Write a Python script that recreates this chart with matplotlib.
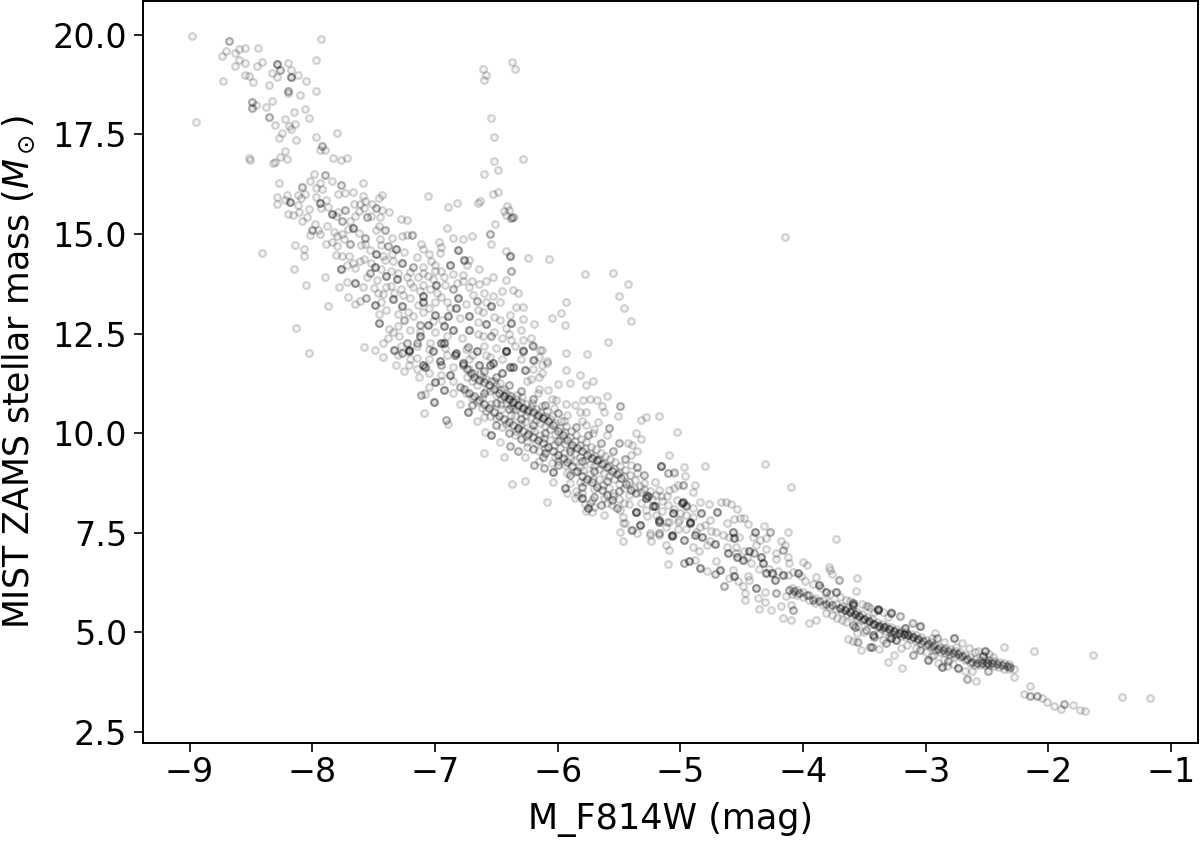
import matplotlib
matplotlib.use('Agg')
import matplotlib.pyplot as plt
import numpy as np

# (F814W mag, ZAMS mass, [number of overlapping stars])
bright_stars = [
(-8.98,19.96),(-8.68,19.84,2),(-8.70,19.60),(-8.74,19.46),(-8.63,19.54),(-8.60,19.64),(-8.55,19.68),(-8.44,19.67),
(-8.60,19.36),(-8.55,19.29),(-8.63,19.21),(-8.45,19.22),(-8.41,19.31),(-8.29,19.27,3),(-8.20,19.29),(-8.26,19.12,2),
(-8.17,19.11),(-8.12,19.0),(-8.17,18.94,3),(-8.33,19.04),(-8.29,18.93),(-7.93,19.89),(-7.97,19.37),(-8.05,18.83),
(-7.97,18.60),(-8.55,19.0),(-8.52,18.97),(-8.48,18.81),(-8.73,18.83),(-8.35,18.74),(-8.20,18.60,2),(-8.20,18.54),
(-8.10,18.49),(-8.33,18.35),(-8.49,18.31,2),(-8.46,18.25),(-8.49,18.16,2),(-8.38,18.19),(-8.35,17.93,2),(-8.06,18.15),
(-8.15,18.07),(-8.03,17.92),(-8.22,17.88),(-8.30,17.73),(-8.14,17.77),(-8.19,17.70),(-8.17,17.63),(-8.25,17.53),
(-8.27,17.41),(-8.13,17.37),(-8.95,17.82),(-7.80,17.54),(-7.97,17.43),(-7.92,17.20,2),(-7.94,17.10),(-7.90,17.11),
(-8.22,17.08),(-8.26,16.93),(-8.21,16.89),(-7.83,16.91),(-7.77,16.87),(-7.72,16.90),(-8.52,16.90),(-8.51,16.86),
(-8.32,16.78),(-8.30,16.80),(-7.99,16.51),(-7.90,16.47,2),(-7.84,16.34),(-7.77,16.23,2),(-7.59,16.28),(-8.02,16.34),
(-8.08,16.19,2),(-7.94,16.28),(-8.27,16.28),(-7.97,16.15),(-7.92,16.14),(-7.79,16.0),(-7.73,16.02),(-7.67,16.05),
(-8.29,15.94),(-8.21,15.98),(-8.12,15.97),(-8.06,16.01),(-7.59,15.96),(-7.43,15.97),(-7.06,15.95),(-7.46,15.9),
]

upper_branch = [
(-6.61,19.14),(-6.58,19.0),(-6.60,18.86),(-6.37,19.33),(-6.35,19.14),(-6.54,17.92),(-6.52,17.43),(-6.52,16.83),
(-6.28,16.88),(-6.49,16.6),(-6.60,16.5),(-6.49,16.05),(-6.63,15.83),(-6.82,15.77),(-6.40,15.6),(-6.42,15.47),
(-6.38,15.4,2),
(-6.24,14.4),(-5.78,14.0),(-5.43,13.75),(-5.55,14.02),(-5.50,13.45),(-5.46,13.15),(-5.40,12.82),(-5.93,13.3),(-5.97,13.02),
(-6.05,12.88),(-5.94,12.72),(-4.15,14.93),
]

upper_cloud = [
(-8.29,15.75),(-8.18,15.81,3),(-8.20,15.50),(-8.16,15.47),(-8.11,15.54),(-8.08,15.33),(-8.04,15.42),(-8.09,15.90),
(-7.94,15.77,4),(-7.89,15.86),(-7.93,15.65),(-7.84,15.51,3),(-7.79,15.56),(-7.73,15.59,2),(-7.76,15.33,2),(-7.65,15.46),
(-7.66,15.75),(-7.61,15.75),(-7.57,15.84),(-7.58,15.65),(-7.48,15.66,2),(-7.43,15.59),(-7.375,15.54),(-7.55,15.42,2),
(-7.52,15.44),(-7.28,15.37),(-7.23,15.35),(-6.89,15.69),(-6.65,15.77),(-6.53,16.0),(-6.41,15.71),(-6.44,15.58),
(-6.36,15.42,2),(-6.51,15.25),(-6.90,15.14),(-6.85,14.91),(-6.77,14.87),(-6.70,14.96),(-6.55,15.0,2),(-6.54,14.75),
(-7.98,15.25),(-8.0,15.09,2),(-7.95,15.10),(-8.02,14.98),(-7.94,14.99),(-7.76,14.99),(-7.67,15.15,3),(-7.71,15.12),
(-7.80,14.94),(-7.84,14.81),(-7.89,14.75),(-7.80,14.70),(-7.69,14.76,2),(-7.57,14.89,2),(-7.57,14.75),(-7.60,14.73),
(-7.46,15.20),(-7.48,15.09),(-7.41,15.09,2),(-7.45,14.88),(-7.35,14.91),(-7.27,14.96),(-7.23,14.97),(-7.185,14.97,2),
(-7.38,14.70,2),(-7.32,14.63,3),(-7.48,14.50,4),(-7.42,14.45),(-7.11,14.75),(-7.10,14.62),(-6.97,14.79),(-6.95,14.67),
(-6.96,14.53),(-6.81,14.60,3),(-6.39,14.45,3),(-6.42,14.57),(-6.07,14.38),(-7.03,14.33),(-6.88,14.22,3),(-6.76,14.35,3),
(-6.72,14.35),(-6.74,14.22),(-6.64,14.13),(-6.38,14.08,2),(-8.14,14.73),(-8.07,14.63),(-8.07,14.45),(-8.41,14.52),
(-8.15,14.13),(-7.90,13.92),(-8.05,13.71),(-7.77,14.13,3),(-7.81,14.47),(-7.76,14.45),(-7.70,14.45),(-7.67,14.27),
(-7.61,14.31),(-7.65,14.14),(-7.72,14.22),(-7.49,14.16,3),(-7.53,14.03,2),(-7.41,14.35),(-7.34,14.31),(-7.27,14.27,3),
(-7.18,14.18,2),(-7.10,14.17),(-7.0,14.22),(-7.0,14.06),(-6.95,14.06),(-7.40,13.95,3),(-7.31,13.87,4),(-7.23,13.93),
(-7.14,13.93),(-7.06,13.95),(-6.77,13.97),(-6.77,13.81),(-7.65,13.78,3),(-7.72,13.79),(-7.78,13.66),(-7.59,13.66),
(-7.50,13.64),(-7.465,13.51),(-7.40,13.68),(-6.99,13.72,4),(-7.10,13.72),(-7.18,13.66),(-6.85,13.61,2),(-6.72,13.68),
(-6.64,13.74),(-6.58,13.81),(-6.53,13.91),(-6.42,13.85),(-7.71,13.41),(-7.87,13.18),(-8.13,12.63),(-8.03,12.01),
(-7.56,13.39,2),(-7.61,13.32),(-7.65,13.24),(-7.49,13.22,3),(-7.44,13.29),(-7.34,13.36,3),(-7.26,13.47),(-7.27,13.18,3),
(-7.10,13.45,3),(-7.10,13.3,3),(-7.0,13.3),(-6.98,13.53),(-6.90,13.3),(-6.81,13.39,3),(-6.69,13.47),(-6.66,13.33,2),
(-6.60,13.53),(-6.53,13.45),(-6.54,13.18,3),(-6.47,13.28),(-6.45,13.58),(-6.36,13.60),(-6.32,13.53),(-6.34,13.16),
(-6.28,13.16),(-6.61,13.05),(-6.39,12.97),(-6.28,12.86),(-6.19,12.73),(-6.38,12.76,3),(-6.47,12.84),(-6.58,12.74,3),
(-6.72,12.93,4),(-6.83,13.14,3),(-6.89,12.93,3),(-7.0,12.97,4),(-7.12,12.72,2),(-7.25,12.84,2),(-7.18,12.93),
(-7.46,12.76,4),(-7.46,13.0),(-7.375,12.61),(-7.34,12.53),(-7.29,12.43),(-7.58,12.17),(-7.49,12.09),(-7.42,12.26),
(-7.42,11.91),(-7.33,12.09,4),(-7.23,12.26,2),(-7.21,12.09,3),(-7.12,12.43,3),(-7.06,12.72,3),(-6.93,12.68,3),
(-6.85,12.59,3),(-6.72,12.59,5),(-6.61,12.43),(-6.54,12.45,2),(-6.45,12.38),(-6.38,12.34),(-6.28,12.34),(-6.42,12.05,5),
(-6.83,12.0,4),(-6.95,12.26,4),(-7.04,12.26),(-6.96,11.80,5),(-6.77,11.76,6),(-7.10,11.71,3),(-6.66,12.05,4),
(-6.55,11.71,6),(-6.28,12.05,3),(-6.20,12.2,2),(-6.13,12.09),(-6.20,11.84,2),(-6.09,11.80),(-7.32,11.71),(-7.15,11.88),
(-6.39,11.67,4),
]

cloud_extra = [
(-8.22,15.85),(-8.12,15.72),(-8.03,15.62),(-7.97,15.92),(-7.87,15.68),(-7.81,15.45),(-7.69,15.33),(-7.62,15.58),(-7.51,15.75),(-7.45,15.42),
(-7.88,15.2),(-7.82,15.05),(-7.74,14.88),(-7.62,15.02),(-7.53,14.6),(-7.44,14.72),(-7.35,14.5),(-7.25,14.55),(-7.15,14.42),(-7.05,14.5),
(-7.58,14.38),(-7.52,14.28),(-7.44,14.12),(-7.36,14.08),(-7.3,14.02),(-7.2,14.05),(-7.1,14.02),(-7.02,13.88),(-6.93,13.92),(-6.85,14.0),
(-7.55,13.92),(-7.47,13.85),(-7.36,13.7),(-7.28,13.62),(-7.2,13.78),(-7.12,13.58),(-7.04,13.62),(-6.92,13.72),(-6.82,13.78),(-6.7,13.82),
(-7.42,13.5),(-7.33,13.52),(-7.2,13.4),(-7.14,13.22),(-7.05,13.15),(-6.95,13.42),(-6.88,13.15),(-6.75,13.25),(-6.65,13.1),(-6.58,13.28),
(-7.4,13.1),(-7.3,12.98),(-7.22,13.05),(-7.1,13.05),(-7.02,12.82),(-6.94,12.85),(-6.8,12.88),(-6.65,12.8),(-6.52,12.92),(-6.42,12.65),
(-7.3,12.7),(-7.2,12.6),(-7.12,12.55),(-7.0,12.55),(-6.9,12.45),(-6.78,12.4),(-6.65,12.5),(-6.52,12.55),(-6.4,12.5),(-6.3,12.6),
(-7.38,12.4),(-7.28,12.2),(-7.15,12.2),(-7.05,12.1),(-6.92,12.15),(-6.75,12.1),(-6.6,12.2),(-6.5,12.15),(-6.35,12.2),(-6.22,12.4),
(-7.3,11.95),(-7.2,11.85),(-7.05,11.85),(-6.9,11.95),(-6.7,11.95),(-6.55,11.9),(-6.45,11.85),(-6.3,11.85),(-6.15,11.9),(-7.25,11.55),
(-7.15,11.6),(-7.05,11.5),(-6.95,11.45),(-6.85,11.65),(-6.72,11.85),(-6.2,11.6),(-6.15,11.4),(-6.22,11.35),(-7.05,11.15),(-6.95,11.3),(-6.85,11.3),
]

dense_edge = [
(-5.93,12.0),(-5.76,11.98),(-5.59,12.30),(-5.93,11.59),(-5.82,11.47),(-6.0,11.24),(-5.90,11.27),(-5.77,11.20),
(-5.71,11.32),(-5.60,10.94),(-5.74,10.86),(-5.79,10.83),(-5.68,10.82),(-5.64,10.67),(-5.49,10.67,2),(-5.51,10.43),
(-5.62,10.52),(-5.32,10.32),(-5.28,10.40),(-5.17,10.43),(-5.03,10.04),(-5.36,10.0),(-5.32,9.86),(-5.43,9.75),
(-5.39,9.70),(-5.35,9.54),(-5.09,9.44),(-5.16,9.18,2),(-4.97,9.16),(-5.10,9.01),(-5.05,9.02),(-4.96,8.93),
(-5.58,10.12,2),(-5.67,10.29),(-5.77,10.21),(-5.71,10.01),(-5.86,10.71),(-5.82,10.54),(-5.77,10.54),(-5.93,10.73),
(-6.01,10.83),(-6.08,11.08),(-6.16,11.0),(-6.13,11.50),(-6.09,11.77),(-6.13,11.71),(-6.14,12.09),(-6.19,11.84),
(-6.21,12.21),(-6.27,11.59,3),(-7.27,12.0,2),(-7.21,12.05,3),(-7.15,12.26,2),(-7.02,12.05,3),(-6.93,12.26,3),
(-6.84,11.96,3),(-6.73,12.17,2),(-6.58,11.96),(-6.42,12.05,3),(-6.53,11.75,3),(-6.64,11.71,3),(-6.36,11.67,4),
(-6.45,11.50,3),(-6.28,12.09),(-7.08,11.67,3),(-7.21,11.71),(-7.13,11.42),(-7.0,11.29,5),(-6.95,11.71,2),(-6.88,11.46,3),
(-6.93,11.08,3),(-7.11,10.96,2),(-7.08,10.98),(-7.01,10.78,3),(-7.09,10.51),(-6.91,10.33,2),(-6.89,10.22),(-6.80,10.73),
(-6.73,10.52,3),(-6.66,10.31),(-6.60,9.51),(-6.44,9.39),(-6.37,8.73),(-6.27,8.79),(-6.09,8.27),(-6.54,9.95,3),
(-6.59,10.04),(-6.47,9.79),(-6.39,9.68,2),(-6.32,9.54,2),(-6.27,9.41),(-6.19,9.20,2),(-6.12,9.41,2),(-6.11,9.12,2),
(-6.04,9.03,3),(-6.04,8.78),(-5.94,8.62,5),(-5.86,8.37),(-5.80,8.37,5),(-5.75,8.11,4),(-5.62,7.95),(-5.49,8.07),
(-5.47,7.90),(-5.45,7.75),(-5.49,7.53),(-5.40,7.57),(-5.35,7.49),(-5.33,7.70,2),(-5.25,7.49),(-5.17,7.45),(-5.07,7.45,3),
(-5.06,7.99,2),(-4.99,8.24,3),(-4.95,8.2),(-4.88,8.70),(-4.90,8.53),(-4.98,8.70,2),(-5.05,8.62),(-5.11,8.41),(-5.21,8.78),
(-5.17,8.57),(-5.26,8.41,5),(-5.21,8.16,3),(-5.36,8.03,3),(-5.28,8.07),(-5.17,7.78,3),(-5.11,7.78),(-5.02,7.78),
(-4.92,7.74,3),(-4.88,7.45,3),
]

band_a = [
(-6.77,11.71,2),(-6.74,11.60,2),(-6.71,11.50,2),(-6.68,11.42,2),(-6.64,11.34,2),(-6.60,11.28,2),(-6.56,11.22,2),(-6.52,11.12,2),
(-6.48,11.0,2),(-6.44,10.92,3),(-6.40,10.86,3),(-6.36,10.78,3),(-6.32,10.70,3),(-6.28,10.62,3),(-6.24,10.58,2),(-6.20,10.52,2),
(-6.16,10.46,2),(-6.12,10.38,3),(-6.08,10.30,2),(-6.04,10.20,2),(-6.0,10.05,2),(-5.96,9.95,2),(-5.92,9.82,2),(-5.88,9.70,2),
(-5.84,9.62,2),(-5.80,9.55,2),(-5.76,9.45,2),(-5.72,9.38,2),(-5.68,9.33,3),(-5.64,9.22,2),(-5.60,9.14,2),(-5.56,9.05,2),
(-5.52,8.98,2),(-5.48,8.88,2),(-5.44,8.72,2),(-5.40,8.56,2),(-5.36,8.50,2),
]

band_b = [
(-6.80,11.17,2),(-6.76,11.10,2),(-6.72,11.0,2),(-6.68,10.92,2),(-6.64,10.84,2),(-6.60,10.72,2),(-6.56,10.62,2),(-6.52,10.52,2),
(-6.48,10.44,2),(-6.44,10.36,2),(-6.40,10.28,2),(-6.36,10.20,2),(-6.32,10.12,3),(-6.28,10.06,2),(-6.24,9.98,2),(-6.20,9.90,2),
(-6.16,9.82,2),(-6.12,9.76,2),(-6.08,9.66,2),(-6.04,9.54,2),(-6.0,9.46,2),(-5.96,9.38,2),(-5.92,9.28,2),(-5.88,9.18,2),
(-5.84,9.06,2),(-5.80,8.92,2),(-5.76,8.86,2),(-5.72,8.78,2),(-5.68,8.66,2),(-5.64,8.56,2),(-5.60,8.44,2),(-5.56,8.32,2),(-5.52,8.12,2),
]

band_fill = [
(-6.6,11.0,2),(-6.5,10.75,2),(-6.4,10.6,2),(-6.3,10.35,2),(-6.2,10.2,2),(-6.1,10.0,2),(-6.0,9.8,2),(-5.9,9.55,2),(-5.8,9.3,2),
(-5.7,9.05,2),(-5.6,8.8,2),(-5.5,8.55,2),(-6.6,11.55,2),(-6.5,11.4,2),(-6.4,11.2,2),(-6.3,11.05,2),(-6.2,10.85,2),(-6.1,10.7,2),
(-6.0,10.5,2),(-5.95,10.3),(-5.85,10.15,2),(-5.75,9.95,2),(-5.65,9.75,2),(-5.55,9.55,2),(-5.45,9.35,2),(-5.35,9.15,2),(-5.3,8.95,2),
(-6.25,11.3),(-6.15,11.1),(-6.05,10.85),(-5.92,10.45),(-5.8,10.3),(-5.7,10.1),(-5.6,9.95),(-5.5,9.75,2),(-5.4,9.45),(-6.85,11.0),
(-6.7,10.7,2),(-6.6,10.4),(-6.5,10.2,2),(-6.4,10.0,2),(-6.3,9.85,2),(-6.2,9.6,2),(-6.1,9.5,2),(-6.0,9.2,2),(-5.9,8.95,2),
(-5.8,8.65,2),(-5.7,8.4,2),(-5.65,8.2,2),(-6.25,9.65),(-6.15,9.3),(-6.05,9.25),
]

band_extra = [
(-6.72,11.62),(-6.68,11.52),(-6.62,11.42),(-6.58,11.35),(-6.54,11.3),(-6.5,11.2),(-6.46,11.08),(-6.42,11.0),(-6.38,10.92),(-6.34,10.85),
(-6.3,10.78),(-6.26,10.72),(-6.22,10.65),(-6.18,10.6),(-6.14,10.52),(-6.1,10.44),(-6.06,10.35),(-6.02,10.25),(-5.98,10.12),(-5.94,10.02),
(-5.9,9.9),(-5.86,9.8),(-5.82,9.7),(-5.78,9.62),(-5.74,9.5),(-5.7,9.42),(-5.66,9.35),(-5.62,9.25),(-5.58,9.18),(-5.54,9.1),(-5.5,9.02),
(-5.46,8.92),(-5.42,8.78),(-5.38,8.62),(-5.32,8.52),(-6.66,11.2),(-6.58,11.08),(-6.5,10.95),(-6.46,10.85),(-6.42,10.75),(-6.38,10.68),
(-6.34,10.6),(-6.3,10.52),(-6.26,10.46),(-6.22,10.4),(-6.18,10.32),(-6.14,10.25),(-6.1,10.18),(-6.06,10.1),(-6.02,9.98),(-5.98,9.85),
(-5.94,9.72),(-5.9,9.62),(-5.86,9.5),(-5.82,9.4),(-5.78,9.32),(-5.74,9.22),(-5.7,9.18),(-5.66,9.1),(-5.62,9.0),(-5.58,8.92),(-5.54,8.85),
(-5.5,8.72),(-5.46,8.62),(-5.42,8.45),(-6.66,10.78),(-6.58,10.55),(-6.5,10.38),(-6.42,10.22),(-6.34,10.05),(-6.26,9.92),(-6.18,9.75),
(-6.1,9.62),(-6.02,9.4),(-5.94,9.2),(-5.86,9.02),(-5.78,8.78),(-5.7,8.6),(-5.62,8.38),(-5.56,8.2),(-5.74,8.25),(-5.7,8.15),(-5.8,8.5),
(-5.85,8.55),(-5.9,8.75),(-6.45,10.15),(-6.35,9.95),(-6.25,9.78),(-6.15,9.55),(-6.0,9.3),(-5.92,9.0),(-5.82,8.78),(-5.6,8.25),(-5.55,8.42),
(-5.4,9.2),(-5.35,9.0),(-5.3,8.75),(-5.25,8.55),(-5.2,8.45),(-5.32,8.25),(-5.42,8.22),(-5.3,8.6),(-5.15,8.3),(-5.1,8.2),(-5.15,8.05),
(-5.05,8.1),(-5.0,8.0),(-4.95,7.95),(-5.2,7.95),(-5.12,7.65),(-5.02,7.6),(-4.95,7.6),(-4.9,7.9),(-4.8,7.7),(-4.75,7.55),(-4.78,7.18),
(-4.65,7.45),(-4.62,7.15),(-4.55,7.15),(-4.48,7.05),(-4.38,7.2),(-4.3,7.1),(-4.22,6.85),(-4.12,6.9),(-4.55,6.98),(-4.46,6.88),(-4.42,6.75),
(-4.36,6.6),(-4.28,6.6),(-4.2,6.55),(-4.12,6.45),(-4.08,6.52),(-4.02,6.42),(-3.98,6.3),(-3.92,6.2),(-3.85,6.1),(-3.78,5.95),(-3.7,5.88),
(-3.65,5.8),(-3.62,5.78),(-3.52,5.72),(-3.45,5.62),(-3.35,5.52),(-3.42,5.5),(-3.72,5.35),(-3.65,5.25),(-3.55,5.15),(-3.5,5.0),(-3.38,4.95),
(-3.3,4.88),(-3.15,4.68),(-3.08,4.6),(-3.0,4.5),(-2.93,4.42),(-2.85,4.32),(-2.78,4.2),(-2.95,4.4),(-2.9,4.24),(-2.83,4.15),(-2.95,4.85),
(-2.85,4.75),(-2.65,4.6),(-2.6,4.5),(-2.48,4.45),(-2.45,4.38),
]

band_scatter = [
(-6.74,11.42),(-6.7,11.3),(-6.63,11.48),(-6.55,11.05),(-6.52,11.32),(-6.47,11.25),(-6.44,11.12),(-6.4,10.95),(-6.36,10.62),(-6.33,10.95),
(-6.29,10.9),(-6.25,10.55),(-6.21,10.75),(-6.17,10.42),(-6.13,10.68),(-6.09,10.55),(-6.05,10.42),(-6.03,10.62),(-5.97,10.3),(-5.93,10.18),
(-5.89,10.05),(-5.85,9.95),(-5.81,9.85),(-5.77,9.78),(-5.73,9.65),(-5.69,9.6),(-5.65,9.5),(-5.61,9.42),(-5.57,9.35),(-5.53,9.28),(-5.49,9.18),
(-5.45,9.08),(-5.41,8.95),(-5.37,8.82),(-5.33,8.68),(-5.28,8.45),(-5.23,8.35),(-6.62,10.62),(-6.55,10.42),(-6.46,10.6),(-6.38,10.45),
(-6.3,10.22),(-6.22,10.1),(-6.14,9.95),(-6.06,9.82),(-5.98,9.62),(-5.9,9.35),(-5.82,9.15),(-5.74,8.98),(-5.66,8.85),(-5.58,8.62),(-5.5,8.35),
(-5.46,8.25),(-6.75,11.0),(-6.7,10.88),(-6.62,10.9),(-6.54,10.72),(-6.46,10.72),(-6.35,10.42),(-6.27,10.28),(-6.19,10.05),(-6.11,9.88),
(-6.03,9.7),(-5.95,9.5),(-5.87,9.3),(-5.79,9.08),(-5.71,8.85),(-5.63,8.7),(-5.55,8.5),(-5.72,8.32),(-5.78,8.22),(-5.83,8.45),(-5.92,8.5),
(-5.77,8.05),(-5.72,8.02),
]

mid_band = [
(-4.80,9.17),(-4.31,9.22),(-4.10,8.66),(-4.84,8.27),(-4.77,8.23),(-4.67,8.27),(-4.63,8.26),(-4.59,8.22),(-4.54,8.09),(-4.70,8.02,3),
(-4.51,7.86),(-4.56,7.84),(-4.48,7.88),(-4.45,7.72),(-4.62,7.74),(-4.76,7.81),(-4.83,7.99,3),(-4.92,7.76,3),(-4.84,7.64),(-4.71,7.53),
(-4.57,7.53,4),(-4.56,7.36,4),(-4.60,7.39),(-4.82,7.40,6),(-4.87,7.53),(-4.72,7.22,4),(-4.76,7.28),(-4.32,7.66),(-4.39,7.53,3),
(-4.27,7.51,2),(-4.12,7.53),(-4.35,7.32),(-4.30,7.36),(-4.41,7.39),(-4.52,7.40),(-4.18,7.30),(-4.15,7.20),(-4.16,7.07,2),(-4.22,7.0),
(-3.73,7.33),(-4.90,7.13),(-4.85,7.03),(-4.97,7.32,3),(-5.07,7.42,3),(-5.12,7.19),(-5.09,7.07),(-5.10,6.72),(-4.97,6.74,2),(-4.93,6.78,3),
(-4.88,6.82),(-4.84,6.61,4),(-4.78,6.53),(-4.71,6.78),(-4.68,6.57,4),(-4.72,6.47,2),(-4.61,6.99,5),(-4.54,6.90,4),(-4.49,6.82,7),
(-4.44,7.03,4),(-4.40,6.99,2),(-4.34,6.90,4),(-4.33,6.74,3),(-4.30,6.48,5),(-4.25,6.48,5),(-4.23,6.32,3),(-4.16,6.44,5),(-4.11,6.74),
(-4.04,6.5,5),(-4.0,6.76),(-3.97,6.69),(-3.89,6.40),(-3.79,6.65),(-3.78,6.57),(-3.76,6.47),(-3.71,6.32,2),(-3.56,6.37),(-3.57,6.03),
(-4.57,6.57),(-4.56,6.42,3),(-4.53,6.30),(-4.45,6.42),(-4.44,6.32),(-4.60,6.36),(-4.64,6.15,2),(-4.49,6.15),(-4.47,5.98),(-4.47,5.80),
(-4.38,6.11,3),(-4.31,6.02),(-4.37,5.86),(-4.31,5.77),(-4.36,5.59),(-4.26,5.55),(-4.18,5.65),(-4.16,5.37),(-4.10,5.30),(-3.95,5.23),
(-3.89,5.30),(-4.08,5.56,2),(-4.10,5.69),(-4.22,5.98,2),(-4.14,5.90),(-3.87,6.19,3),(-3.81,6.02,4),(-3.73,6.02,3),(-3.59,5.69,5),
(-3.47,5.65),(-3.39,5.58,3),(-3.28,5.48,3),(-3.21,5.41),(-3.11,5.23),(-3.81,5.48),(-3.76,5.44),(-3.68,5.31),(-3.59,5.19,2),(-3.56,4.98),
(-3.485,5.06),(-3.42,4.89,2),(-3.63,4.83),(-3.56,4.75),(-3.44,4.64,2),(-3.32,4.73,2),(-3.24,4.81,3),(-5.47,7.74),(-5.39,7.57,2),
(-5.47,7.28),(-5.33,7.70,2),(-5.24,7.28),(-5.25,7.45),(-5.17,7.49,2),(-5.17,7.82,4),(-5.22,8.16,4),(-5.28,8.37,4),(-5.36,8.03,2),
(-5.27,7.91),(-5.06,7.99,2),(-5.09,7.78),(-5.01,7.82),(-5.16,8.41),(-5.09,8.58),(-5.02,8.70),(-4.98,8.28,4),(-4.95,8.16,2),(-5.03,8.33),
(-4.90,8.12),(-5.16,9.18,2),(-5.10,9.01),(-5.05,9.01),
]

main_ridge = [
(-4.11,6.07,2),(-4.07,6.03,2),(-4.03,5.98,2),(-3.97,5.94,2),(-3.92,5.81,2),(-3.87,5.78,2),(-3.81,5.72,2),(-3.76,5.68,2),(-3.70,5.61,3),
(-3.66,5.55,3),(-3.62,5.50,3),(-3.58,5.46,3),(-3.54,5.41,3),(-3.50,5.34,3),(-3.46,5.28,3),(-3.42,5.22,3),(-3.38,5.16,3),(-3.34,5.12,3),
(-3.30,5.08,3),(-3.26,5.03,3),(-3.22,4.98,3),(-3.18,4.95,3),(-3.14,4.92,3),(-3.10,4.87,3),(-3.06,4.82,3),(-3.02,4.77,2),(-2.98,4.71,2),
(-2.94,4.65,2),(-2.90,4.58,2),(-2.86,4.55,2),(-2.82,4.52,2),(-2.78,4.49,2),(-2.74,4.45,2),(-2.70,4.40,2),(-2.66,4.32,2),(-2.62,4.26,2),
(-2.58,4.22,2),(-2.54,4.22,2),(-2.50,4.23,3),(-2.46,4.24,2),(-2.42,4.20,2),(-2.38,4.17,2),(-2.34,4.15,2),(-2.31,4.12,2),
]

ridge_upper = [
(-4.09,6.10),(-4.05,6.06),(-4.0,6.02),(-3.95,5.94),(-3.90,5.86),(-3.84,5.81),(-3.79,5.76),(-3.73,5.71),(-3.68,5.65),(-3.64,5.60),(-3.60,5.55),
(-3.56,5.50),(-3.52,5.45),(-3.48,5.39),(-3.44,5.33),(-3.40,5.27),(-3.36,5.22),(-3.32,5.17),(-3.28,5.12),(-3.24,5.08),(-3.20,5.04),(-3.16,5.0),
(-3.12,4.96),(-3.08,4.92),(-3.04,4.87),(-3.0,4.81),(-2.96,4.75),(-2.92,4.69),(-2.88,4.64),(-2.84,4.61),(-2.80,4.58),(-2.76,4.54),(-2.72,4.50),
(-2.68,4.44),(-2.64,4.37),(-2.60,4.32),(-2.56,4.30),(-2.52,4.30),(-2.48,4.31),(-2.44,4.29),(-2.40,4.25),(-2.36,4.22),(-2.32,4.20),
]

ridge_lower = [
(-4.09,5.97),(-4.05,5.93),(-4.0,5.89),(-3.95,5.82),(-3.90,5.73),(-3.84,5.68),(-3.79,5.63),(-3.73,5.58),(-3.68,5.52),(-3.64,5.47),(-3.60,5.42),
(-3.56,5.37),(-3.52,5.32),(-3.48,5.26),(-3.44,5.20),(-3.40,5.14),(-3.36,5.09),(-3.32,5.04),(-3.28,4.99),(-3.24,4.95),(-3.20,4.91),(-3.16,4.87),
(-3.12,4.83),(-3.08,4.79),(-3.04,4.74),(-3.0,4.68),(-2.96,4.62),(-2.92,4.56),(-2.88,4.51),(-2.84,4.48),(-2.80,4.45),(-2.76,4.41),(-2.72,4.37),
(-2.68,4.31),(-2.64,4.24),(-2.60,4.19),(-2.56,4.17),(-2.52,4.17),(-2.48,4.18),(-2.44,4.16),(-2.40,4.12),(-2.36,4.09),(-2.32,4.07),
]

faint_tail = [
(-2.36,4.63),(-2.12,4.54),(-1.64,4.42),(-1.40,3.38),(-1.17,3.34),(-2.15,3.64),(-2.20,3.45),(-2.15,3.39,2),(-2.09,3.41,2),(-2.05,3.36),
(-2.01,3.26),(-1.95,3.15),(-1.90,3.08),(-1.87,3.21,2),(-1.80,3.18),(-1.74,3.05),(-1.70,3.03),(-2.28,3.87),(-2.28,4.07),(-2.66,3.82,2),
(-2.59,3.77),(-3.19,4.10),(-3.31,4.26),(-3.26,4.43),(-3.53,4.56),(-3.45,4.63,2),(-3.38,4.59),(-3.55,4.75),(-3.59,4.79),(-3.43,4.94,3),
(-3.58,5.12,2),(-3.49,5.05),(-3.35,4.81),(-3.28,4.85,3),(-3.20,4.60),(-3.10,4.43,2),(-3.05,4.56,2),(-2.98,4.31,4),(-2.87,4.14,5),
(-2.82,4.27,2),(-2.74,4.10,3),(-2.68,4.02),(-2.62,4.02),(-2.49,4.02,2),(-3.59,5.73,4),(-3.485,5.65),(-3.39,5.56,3),(-3.28,5.50),
(-3.21,5.41),(-3.31,5.38),(-3.10,5.23),(-3.05,5.15,3),(-3.17,5.10,3),(-2.92,4.98),(-2.91,4.85,2),(-2.77,4.85,3),(-2.70,4.73),
(-2.75,4.63),(-2.575,4.54),(-2.52,4.52,3),(-2.53,4.40,3),
]

xticks = [-9, -8, -7, -6, -5, -4, -3, -2, -1]
yticks = [2.5, 5.0, 7.5, 10.0, 12.5, 15.0, 17.5, 20.0]

all_stars = []
for group in [bright_stars, upper_branch, upper_cloud, cloud_extra, dense_edge, band_a, band_b, band_fill, band_extra,
              band_scatter, mid_band, main_ridge, ridge_upper, ridge_lower, faint_tail]:
    for p in group:
        n = p[2] if len(p) > 2 else 1
        all_stars += [p[:2]] * min(n, 3)
all_stars = np.array(all_stars)

fig = plt.figure(figsize=(6, 4.215), dpi=200)
ax = fig.add_axes([143/1200, 1 - 743/843, 1055/1200, 742/843])

ax.scatter(all_stars[:, 0], all_stars[:, 1], s=6, facecolors=(0, 0, 0, 0.04), edgecolors=(0, 0, 0, 0.17), linewidths=0.75)

ax.set_xlim(-9.38, -0.78)
ax.set_ylim(2.22, 20.85)
ax.set_xticks(xticks)
ax.set_yticks(yticks)
ax.tick_params(labelsize=12, width=0.6, length=3.2, pad=2.5)
ax.tick_params(axis='x', pad=1.5)
for s in ax.spines.values():
    s.set_linewidth(0.7)
ax.set_xlabel('M_F814W (mag)', fontsize=12.6, labelpad=4.5)
ax.set_ylabel(r'MIST ZAMS stellar mass ($M_\odot$)', fontsize=12.5, labelpad=5.5)

plt.savefig('out.png', dpi=200)
plt.close(fig)
